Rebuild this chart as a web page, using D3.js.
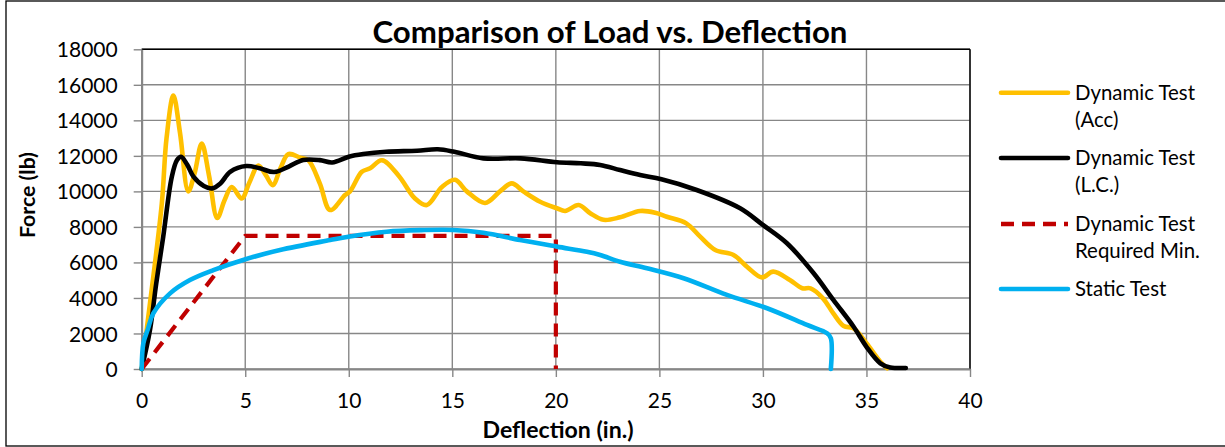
<!DOCTYPE html>
<html>
<head>
<meta charset="utf-8">
<script src="https://cdn.jsdelivr.net/npm/d3@7"></script>
<style>
  html, body { margin: 0; padding: 0; background: #fff; }
  svg { display: block; }
  text { font-family: Lato, "Open Sans", sans-serif; fill: #000; }
</style>
</head>
<body>
<svg id="chart" width="1225" height="447"></svg>
<script>
// ---------- data ----------
const chartTitle = "Comparison of Load vs. Deflection";
const xAxisTitle = "Deflection (in.)";
const yAxisTitle = "Force (lb)";
const xTicks = [0, 5, 10, 15, 20, 25, 30, 35, 40];
const yTicks = [0, 2000, 4000, 6000, 8000, 10000, 12000, 14000, 16000, 18000];

const seriesNames = ["Dynamic Test (Acc)", "Dynamic Test (L.C.)", "Dynamic Test Required Min.", "Static Test"];
const legendLines = [["Dynamic Test", "(Acc)"], ["Dynamic Test", "(L.C.)"], ["Dynamic Test", "Required Min."], ["Static Test"]];

const dynamicAcc = [
  [0,0],[0.4,3700],[0.97,9300],[1.2,13000],[1.53,15400],[1.85,13300],[2.25,10000],[2.55,11000],
  [2.9,12700],[3.25,10900],[3.65,8500],[4.0,9500],[4.35,10250],[4.83,9600],[5.2,10500],[5.63,11450],
  [6.0,10900],[6.33,10350],[6.7,11300],[7.08,12100],[7.65,11900],[8.05,11750],[8.6,10450],[9.1,8950],
  [9.82,9800],[10.06,10000],[10.63,11100],[11.03,11300],[11.6,11750],[12.4,10900],[13.2,9600],
  [13.77,9230],[14.5,10250],[15.13,10650],[15.7,10000],[16.58,9350],[17.3,10000],[17.87,10450],
  [18.43,10000],[19.24,9420],[20.05,9050],[20.45,8900],[21.1,9230],[21.66,8770],[22.3,8400],
  [23.1,8540],[24.07,8900],[24.8,8800],[25.36,8570],[26.3,8200],[26.97,7450],[27.7,6700],
  [28.58,6420],[29.23,5760],[29.95,5160],[30.5,5480],[31.3,5010],[31.9,4550],[32.3,4540],
  [32.9,3980],[33.4,3130],[33.9,2420],[34.37,2290],[35.0,1450],[35.67,410],[36.0,40]
];

const dynamicLC = [
  [0,0],[0.4,2200],[0.7,4800],[1.04,7450],[1.45,10800],[1.7,11750],[1.9,11950],[2.2,11500],
  [2.5,10830],[3.0,10300],[3.4,10170],[3.8,10450],[4.27,11100],[5.05,11430],[5.7,11300],
  [6.4,11090],[7.1,11400],[7.8,11770],[8.6,11760],[9.2,11630],[10.0,11950],[10.7,12100],
  [11.8,12230],[13.3,12290],[14.3,12370],[15.1,12230],[16.5,11860],[18.3,11860],[20.05,11640],
  [21.2,11580],[22.14,11490],[23.1,11200],[24.07,10920],[25.1,10680],[26.8,10080],[28.9,9050],
  [30.0,8110],[31.16,7080],[32.45,5390],[33.4,3890],[34.38,2380],[35.0,1250],[35.67,320],
  [36.15,80],[36.5,60],[36.9,60]
];

const requiredMin = [[0,0],[5,7500],[20,7500],[20,0]];

const staticTest = [
  [0,0],[0.08,1450],[0.3,2250],[0.56,3130],[1.37,4260],[2.33,5010],[3.46,5570],[4.9,6140],
  [6.68,6700],[9.1,7260],[9.98,7450],[11.83,7730],[13.5,7820],[15.05,7830],[16.5,7670],
  [18.27,7260],[20.05,6890],[21.5,6600],[22.14,6420],[23.1,6040],[24.4,5670],[26.17,5110],
  [28.26,4170],[30.2,3420],[32.13,2480],[33.1,2010],[33.28,1730],[33.28,0]
];

const seriesColors = ["#FFC000", "#000000", "#C00000", "#00B0F0"];

// ---------- layout ----------
const svg = d3.select("#chart");
const plot = { left: 141.7, right: 970, top: 49.3, bottom: 369 };

const x = d3.scaleLinear().domain([0, 40]).range([plot.left, plot.right]);
const y = d3.scaleLinear().domain([0, 18000]).range([plot.bottom, plot.top]);

// outer chart border
svg.append("rect")
  .attr("x", 6).attr("y", 1).attr("width", 1240).attr("height", 445)
  .attr("fill", "#fff").attr("stroke", "#000").attr("stroke-width", 1.3);

// helper to fit text to a target width
function fit(sel, target) {
  const n = sel.node();
  const fs = parseFloat(sel.attr("font-size"));
  const w = n.getComputedTextLength();
  if (w > 0) sel.attr("font-size", (fs * target / w).toFixed(2));
  return sel;
}

// gridlines
const grid = svg.append("g");
grid.selectAll("line.v").data(xTicks).join("line")
  .attr("x1", d => x(d)).attr("x2", d => x(d))
  .attr("y1", plot.top).attr("y2", plot.bottom)
  .attr("stroke", "#878787").attr("stroke-width", 1.4);
grid.selectAll("line.h").data(yTicks).join("line")
  .attr("x1", plot.left).attr("x2", plot.right)
  .attr("y1", d => y(d)).attr("y2", d => y(d))
  .attr("stroke", "#878787").attr("stroke-width", 1.4);

// plot-area border: top & right black
svg.append("line").attr("x1", plot.left).attr("x2", plot.right).attr("y1", plot.top).attr("y2", plot.top)
  .attr("stroke", "#000").attr("stroke-width", 1.4);
svg.append("line").attr("x1", plot.right).attr("x2", plot.right).attr("y1", plot.top).attr("y2", plot.bottom)
  .attr("stroke", "#000").attr("stroke-width", 1.4);

// axes
const xAxis = d3.axisBottom(x).tickValues(xTicks).tickSize(8).tickSizeOuter(0).tickPadding(12);
const yAxis = d3.axisLeft(y).tickValues(yTicks).tickSize(8).tickSizeOuter(0).tickPadding(16)
  .tickFormat(d3.format("d"));

const gx = svg.append("g").attr("transform", `translate(0,${plot.bottom})`).call(xAxis);
const gy = svg.append("g").attr("transform", `translate(${plot.left},0)`).call(yAxis);
[gx, gy].forEach(g => {
  g.select(".domain").attr("stroke", "#878787").attr("stroke-width", 2);
  g.selectAll(".tick line").attr("stroke", "#878787").attr("stroke-width", 1.4);
  g.selectAll(".tick text").attr("font-family", "Lato, 'Open Sans', sans-serif")
    .attr("font-size", 21).attr("fill", "#000");
});
gx.selectAll(".tick text").attr("dy", "0.9em");
gy.selectAll(".tick text").attr("dy", "0.36em");

// series
const lineGen = d3.line().x(d => x(d[0])).y(d => y(d[1]));
const smooth = d3.curveCatmullRom.alpha(0.5);
const series = [dynamicAcc, dynamicLC, requiredMin, staticTest];
const gs = svg.append("g");
series.forEach((s, i) => {
  const dashed = i === 2;
  gs.append("path")
    .datum(s)
    .attr("fill", "none")
    .attr("stroke", seriesColors[i])
    .attr("stroke-width", dashed ? 4.2 : 4.6)
    .attr("stroke-linejoin", "round")
    .attr("stroke-linecap", dashed ? "butt" : "round")
    .attr("stroke-dasharray", dashed ? "13,8" : null)
    .attr("d", lineGen.curve(dashed ? d3.curveLinear : smooth)(s));
});

// title
fit(svg.append("text").attr("x", 610).attr("y", 42.5).attr("text-anchor", "middle")
  .attr("font-weight", "bold").attr("font-size", 27).text(chartTitle), 475);

// axis titles
fit(svg.append("text").attr("x", 558).attr("y", 438).attr("text-anchor", "middle")
  .attr("font-weight", "bold").attr("font-size", 18).text(xAxisTitle), 151);
fit(svg.append("text").attr("transform", "translate(35,195) rotate(-90)").attr("text-anchor", "middle")
  .attr("font-weight", "bold").attr("font-size", 18).text(yAxisTitle), 86);

// legend
const legendY = [92.7, 158, 224, 289];
const lg = svg.append("g");
legendLines.forEach((lines, i) => {
  lg.append("line")
    .attr("x1", 1001).attr("x2", 1068).attr("y1", legendY[i]).attr("y2", legendY[i])
    .attr("stroke", seriesColors[i]).attr("stroke-width", 4.6)
    .attr("stroke-linecap", i === 2 ? "butt" : "round")
    .attr("stroke-dasharray", i === 2 ? "13,8" : null);
  lines.forEach((t, j) => {
    lg.append("text").attr("x", 1075).attr("y", legendY[i] + j * 26.5)
      .attr("dy", "0.36em").attr("font-size", 18).text(t);
  });
});
// scale legend text to match "Dynamic Test" width of ~120px
(function () {
  const first = lg.select("text");
  const w = first.node().getComputedTextLength();
  const fs = 18 * 120 / w;
  lg.selectAll("text").attr("font-size", fs.toFixed(2));
})();
</script>
</body>
</html>
